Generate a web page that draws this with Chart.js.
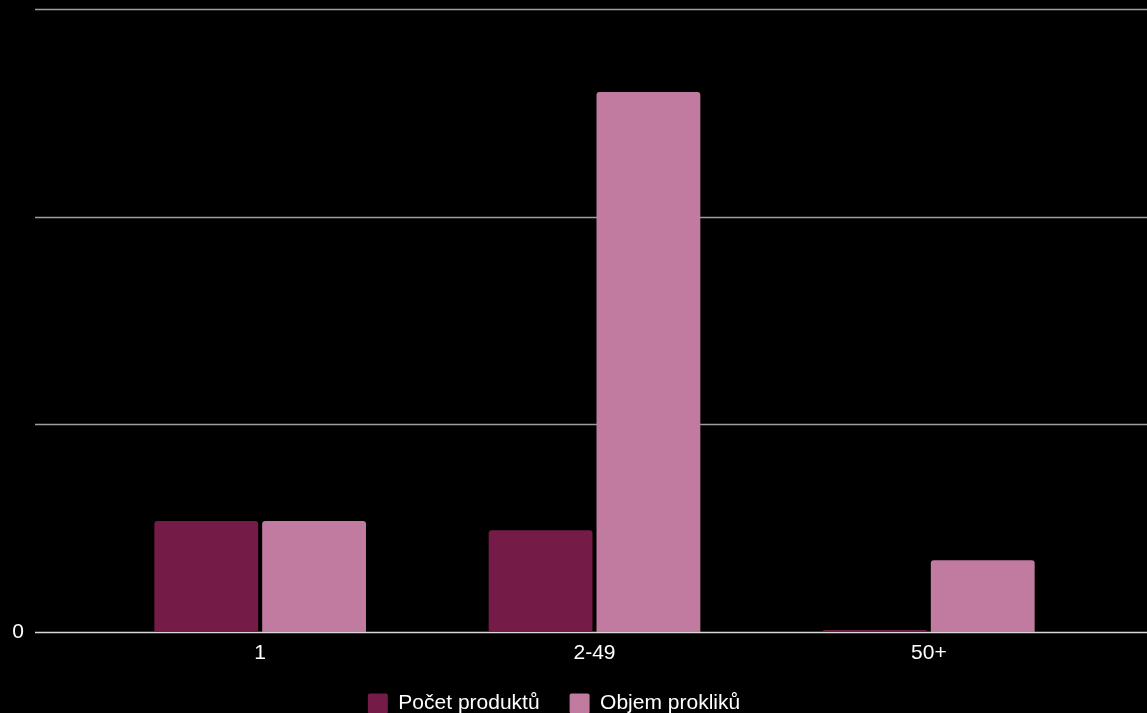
<!DOCTYPE html>
<html>
<head>
<meta charset="utf-8">
<script src="https://cdn.jsdelivr.net/npm/chart.js@4"></script>
<style>
  html, body { margin: 0; padding: 0; background: #000; }
  #wrap { width: 1147px; height: 713px; }
</style>
</head>
<body>
<div id="wrap"><canvas id="c" width="1147" height="713"></canvas></div>
<script>
// Categories and series
const categories = ['1', '2-49', '50+'];
const pocetProduktu = [0.535, 0.49, 0.01];
const objemProkliku = [0.535, 2.6, 0.345];
// Value axis ticks; only the baseline carries a label
const yTickValues = [0, 1, 2, 3];
const yTickLabels = ['0', '', '', ''];

const FONT = 'Liberation Sans, Arial, sans-serif';
const FONT_SIZE = 21;

// Horizontal gridlines run wider than the plot area; the value labels sit at their left end
const wideGrid = {
  id: 'wideGrid',
  beforeDatasetsDraw(chart) {
    const y = chart.scales.y;
    const ctx = chart.ctx;
    ctx.save();
    yTickValues.forEach((v, i) => {
      const py = Math.round(y.getPixelForValue(v)) + 0.5;
      ctx.strokeStyle = v === 0 ? '#d9d9d9' : '#9e9e9e';
      ctx.lineWidth = 1.5;
      ctx.beginPath();
      ctx.moveTo(35, py);
      ctx.lineTo(chart.width, py);
      ctx.stroke();
      if (yTickLabels[i]) {
        ctx.fillStyle = '#ffffff';
        ctx.font = FONT_SIZE + 'px ' + FONT;
        ctx.textAlign = 'right';
        ctx.textBaseline = 'middle';
        ctx.fillText(yTickLabels[i], 24, py);
      }
    });
    ctx.restore();
  }
};

const hiddenAxis = {
  ticks: { display: false },
  grid: { display: false, drawTicks: false },
  border: { display: false }
};

new Chart(document.getElementById('c'), {
  type: 'bar',
  data: {
    labels: categories,
    datasets: [
      {
        label: 'Počet produktů',
        data: pocetProduktu,
        backgroundColor: '#741b47',
        borderRadius: 3,
        borderSkipped: 'start'
      },
      {
        label: 'Objem prokliků',
        data: objemProkliku,
        backgroundColor: '#c27ba0',
        borderRadius: 3,
        borderSkipped: 'start'
      }
    ]
  },
  options: {
    responsive: false,
    animation: false,
    devicePixelRatio: 1,
    categoryPercentage: 0.645,
    barPercentage: 0.963,
    layout: { padding: { left: 0, right: 39, top: 9, bottom: -11 } },
    scales: {
      x: {
        grid: { display: false, drawTicks: false },
        border: { display: false },
        ticks: { color: '#ffffff', font: { family: FONT, size: FONT_SIZE }, padding: 9 },
        afterFit(scale) { scale.height = 31; }
      },
      y: {
        ...hiddenAxis,
        position: 'left',
        min: 0,
        max: 3,
        afterFit(scale) { scale.width = 93; }
      },
      yRight: {
        ...hiddenAxis,
        type: 'linear',
        axis: 'y',
        position: 'right',
        afterFit(scale) { scale.width = 12; }
      }
    },
    plugins: {
      legend: {
        position: 'bottom',
        labels: {
          color: '#ffffff',
          font: { family: FONT, size: FONT_SIZE },
          boxWidth: 20,
          boxHeight: 20,
          useBorderRadius: true,
          borderRadius: 2,
          padding: 30
        }
      },
      tooltip: { enabled: false }
    }
  },
  plugins: [wideGrid]
});
</script>
</body>
</html>
